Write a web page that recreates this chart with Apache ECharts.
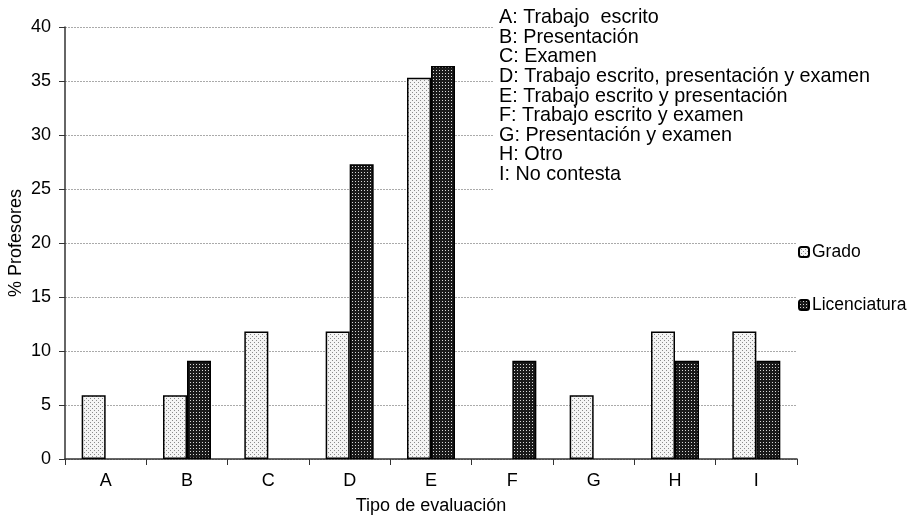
<!DOCTYPE html>
<html>
<head>
<meta charset="utf-8">
<script src="https://cdn.jsdelivr.net/npm/echarts@6/dist/echarts.min.js"></script>
<style>
  html, body { margin: 0; padding: 0; background: #fff; }
  #chart { width: 911px; height: 518px; }
</style>
</head>
<body>
<div id="chart"></div>
<script>
// Evaluation types and share of teachers (%) per degree programme
const categories = ['A', 'B', 'C', 'D', 'E', 'F', 'G', 'H', 'I'];
const grado = [5.9, 5.9, 11.8, 11.8, 35.3, 0, 5.9, 11.8, 11.8];
const licenciatura = [0, 9.1, 0, 27.3, 36.4, 9.1, 0, 9.1, 9.1];
const keyLines = [
  'A: Trabajo  escrito',
  'B: Presentación',
  'C: Examen',
  'D: Trabajo escrito, presentación y examen',
  'E: Trabajo escrito y presentación',
  'F: Trabajo escrito y examen',
  'G: Presentación y examen',
  'H: Otro',
  'I: No contesta'
];

// Light dotted fill
function dotPattern() {
  const c = document.createElement('canvas');
  c.width = 4; c.height = 4;
  const g = c.getContext('2d');
  g.fillStyle = '#f4f4f4'; g.fillRect(0, 0, 4, 4);
  g.fillStyle = '#8a8a8a';
  g.fillRect(0, 0, 1, 1);
  g.fillRect(2, 2, 1, 1);
  return c;
}
// Dark grid fill
function gridPattern() {
  const c = document.createElement('canvas');
  c.width = 3; c.height = 3;
  const g = c.getContext('2d');
  g.fillStyle = '#1a1a1a'; g.fillRect(0, 0, 3, 3);
  g.fillStyle = '#d8d8d8';
  g.fillRect(1, 1, 1, 1);
  return c;
}

// Empty categories get no bar outline
const noZero = arr => arr.map(v => (v === 0 ? null : v));

const font = 'Liberation Sans, Arial, Helvetica, sans-serif';
const chart = echarts.init(document.getElementById('chart'));
chart.setOption({
  animation: false,
  textStyle: { fontFamily: font },
  grid: { left: 65, top: 27, right: 114, bottom: 59, outerBoundsMode: 'none', containLabel: false },
  legend: {
    orient: 'vertical',
    left: 793, top: 238,
    itemWidth: 10, itemHeight: 10,
    itemGap: 35,
    textStyle: { fontSize: 17.5, color: '#000', fontFamily: font, padding: [0, 0, 0, -2] },
    data: ['Grado', 'Licenciatura']
  },
  xAxis: {
    type: 'category',
    data: categories,
    name: 'Tipo de evaluación',
    nameLocation: 'middle',
    nameGap: 38,
    nameMoveOverlap: false,
    nameTextStyle: { fontSize: 18, color: '#000' },
    axisLine: { lineStyle: { color: '#333', width: 1.5 } },
    axisTick: { show: true, length: 6, lineStyle: { color: '#333' } },
    axisLabel: { fontSize: 18, color: '#000', margin: 13 }
  },
  yAxis: {
    type: 'value',
    min: 0, max: 40, interval: 5,
    name: '% Profesores',
    nameLocation: 'middle',
    nameGap: 40,
    nameMoveOverlap: false,
    nameTextStyle: { fontSize: 18, color: '#000' },
    axisLine: { show: true, lineStyle: { color: '#333', width: 1.5 } },
    axisTick: { show: true, length: 6, lineStyle: { color: '#333' } },
    axisLabel: { fontSize: 18, color: '#000', margin: 14 },
    splitLine: { lineStyle: { color: '#aaa', type: [2, 1], width: 1 } }
  },
  series: [
    {
      name: 'Grado', type: 'bar', data: noZero(grado),
      barWidth: 24, barGap: '0%',
      itemStyle: { color: { image: dotPattern(), repeat: 'repeat' }, borderColor: '#000', borderWidth: 1.5 }
    },
    {
      name: 'Licenciatura', type: 'bar', data: noZero(licenciatura),
      barWidth: 24, barGap: '0%',
      itemStyle: { color: { image: gridPattern(), repeat: 'repeat' }, borderColor: '#000', borderWidth: 1.5 }
    }
  ],
  graphic: [
    {
      type: 'rect',
      shape: { x: 494, y: 0, width: 320, height: 193 },
      style: { fill: '#fff' },
      z: 99
    },
    {
      type: 'text',
      x: 499, y: 8,
      z: 100,
      style: {
        text: keyLines.join('\n'),
        font: '19.8px ' + font,
        lineHeight: 19.6,
        fill: '#000'
      }
    }
  ]
});
</script>
</body>
</html>
